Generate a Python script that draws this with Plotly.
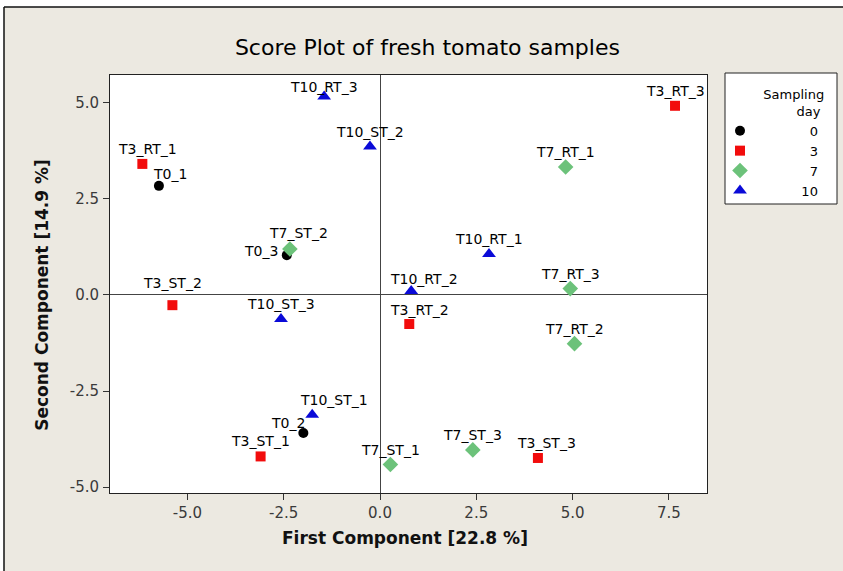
import plotly.graph_objects as go

# PCA scores (first / second component) per sampling day
day0_names = ["T0_1", "T0_2", "T0_3"]
day0_pc1 = [-5.74, -1.99, -2.42]
day0_pc2 = [2.83, -3.59, 1.03]

day3_names = ["T3_RT_1", "T3_RT_2", "T3_RT_3", "T3_ST_1", "T3_ST_2", "T3_ST_3"]
day3_pc1 = [-6.17, 0.76, 7.66, -3.10, -5.39, 4.10]
day3_pc2 = [3.40, -0.76, 4.91, -4.20, -0.27, -4.24]

day7_names = ["T7_RT_1", "T7_RT_2", "T7_RT_3", "T7_ST_1", "T7_ST_2", "T7_ST_3"]
day7_pc1 = [4.82, 5.05, 4.94, 0.27, -2.34, 2.41]
day7_pc2 = [3.32, -1.27, 0.16, -4.41, 1.19, -4.03]

day10_names = ["T10_RT_1", "T10_RT_2", "T10_RT_3", "T10_ST_1", "T10_ST_2", "T10_ST_3"]
day10_pc1 = [2.83, 0.81, -1.45, -1.76, -0.26, -2.57]
day10_pc2 = [1.06, 0.10, 5.15, -3.12, 3.85, -0.63]

day_labels = ["0", "3", "7", "10"]
tick_vals_x = [-5.0, -2.5, 0.0, 2.5, 5.0, 7.5]
tick_text_x = ["-5.0", "-2.5", "0.0", "2.5", "5.0", "7.5"]
tick_vals_y = [-5.0, -2.5, 0.0, 2.5, 5.0]
tick_text_y = ["-5.0", "-2.5", "0.0", "2.5", "5.0"]

groups = [
    (day_labels[0], day0_names, day0_pc1, day0_pc2, "circle", "#000000", 10),
    (day_labels[1], day3_names, day3_pc1, day3_pc2, "square", "#f20c0c", 10),
    (day_labels[2], day7_names, day7_pc1, day7_pc2, "diamond", "#6cc27a", 12),
    (day_labels[3], day10_names, day10_pc1, day10_pc2, "triangle-up", "#0a0ad8", 12),
]

# label nudges (pixels) for crowded points; default is centred just above
label_nudge = {
    "T0_1": (11, 12), "T0_2": (-15, 10), "T10_ST_1": (22, 15),
    "T3_ST_2": (0, 22), "T10_RT_2": (13, 12), "T3_RT_2": (10, 14),
    "T7_ST_2": (9, 16), "T3_ST_3": (9, 15), "T10_RT_3": (0, 10),
    "T3_RT_1": (5, 15),
}

FIG_SPACE = "\u2007"
NBSP = "\u00a0"
label_font = dict(family="DejaVu Sans", size=14, color="#000000")

fig = go.Figure()
annotations = []
for day, names, xs, ys, symbol, color, size in groups:
    pad = FIG_SPACE * (7 - len(day))
    fig.add_trace(go.Scatter(
        x=xs, y=ys, mode="markers", name=pad + day, text=names,
        marker=dict(symbol=symbol, color=color, size=size, line=dict(width=0)),
        hovertemplate="%{text}<br>PC1=%{x}<br>PC2=%{y}<extra></extra>",
    ))
    for n, x, y in zip(names, xs, ys):
        if n == "T0_3":
            annotations.append(dict(x=x, y=y, text=n, showarrow=False,
                                    xanchor="right", yanchor="middle",
                                    xshift=-7, yshift=4, font=label_font))
            continue
        dx, dy = label_nudge.get(n, (0, 15))
        annotations.append(dict(x=x, y=y, text=n, showarrow=False,
                                xanchor="center", yanchor="middle",
                                xshift=dx, yshift=dy, font=label_font))

# axis titles
axis_title_font = dict(family="DejaVu Sans", size=17, color="#111111")
annotations.append(dict(xref="paper", yref="paper", x=0.494, y=-0.108,
                        text="<b>First Component [22.8 %]</b>", showarrow=False,
                        xanchor="center", yanchor="middle", font=axis_title_font))
annotations.append(dict(xref="paper", yref="paper", x=-0.114, y=0.474,
                        text="<b>Second Component [14.9 %]</b>", showarrow=False,
                        textangle=-90, xanchor="center", yanchor="middle",
                        font=axis_title_font))

axis_common = dict(
    showgrid=False, showline=True, linecolor="#222222", linewidth=1, mirror=True,
    ticks="outside", ticklen=6, tickcolor="#333333",
    zeroline=True, zerolinecolor="#444444", zerolinewidth=1,
    tickfont=dict(family="DejaVu Sans", size=15, color="#3a3a3a"),
)

BG = "#ece9e1"


def px_x(p):
    return (p - 110) / 597


def px_y(p):
    return (493 - p) / 418


fig.update_layout(
    width=843, height=571,
    margin=dict(l=110, r=136, t=75, b=78),
    paper_bgcolor=BG, plot_bgcolor="#ffffff",
    title=dict(text="Score Plot of fresh tomato samples", xref="container",
               x=0.507, xanchor="center", y=1 - 47 / 571, yanchor="middle",
               font=dict(family="DejaVu Sans", size=22, color="#000000")),
    xaxis=dict(range=[-7.01, 8.49], tickvals=tick_vals_x, ticktext=tick_text_x,
               **axis_common),
    yaxis=dict(range=[-5.15, 5.71], tickvals=tick_vals_y, ticktext=tick_text_y,
               ticklabelstandoff=1, **axis_common),
    showlegend=True,
    legend=dict(
        x=px_x(720), y=px_y(82), xanchor="left", yanchor="top",
        bgcolor="rgba(0,0,0,0)", borderwidth=0,
        font=dict(family="DejaVu Sans", size=13, color="#000000"),
        title=dict(text=FIG_SPACE * 4 + NBSP * 2 + "Sampling<br>" + FIG_SPACE * 8 + NBSP * 2 + "day",
                   font=dict(family="DejaVu Sans", size=13, color="#000000")),
        tracegroupgap=0, itemsizing="trace",
    ),
    annotations=annotations,
    shapes=[
        # legend box
        dict(type="rect", xref="paper", yref="paper", layer="above",
             x0=px_x(725), x1=px_x(837), y0=px_y(204), y1=px_y(73),
             fillcolor="#ffffff", line=dict(color="#222222", width=1)),
        # white margin above / left of the framed panel
        dict(type="rect", xref="paper", yref="paper", layer="above",
             x0=px_x(0), x1=px_x(843), y0=px_y(7), y1=px_y(0),
             fillcolor="#ffffff", line=dict(width=0)),
        dict(type="rect", xref="paper", yref="paper", layer="above",
             x0=px_x(0), x1=px_x(4), y0=px_y(571), y1=px_y(0),
             fillcolor="#ffffff", line=dict(width=0)),
        # panel frame
        dict(type="line", xref="paper", yref="paper", layer="above",
             x0=px_x(4), x1=px_x(843), y0=px_y(7), y1=px_y(7),
             line=dict(color="#111111", width=1.5)),
        dict(type="line", xref="paper", yref="paper", layer="above",
             x0=px_x(4), x1=px_x(4), y0=px_y(571), y1=px_y(7),
             line=dict(color="#111111", width=1.5)),
    ],
)

fig.write_html("out.html")
